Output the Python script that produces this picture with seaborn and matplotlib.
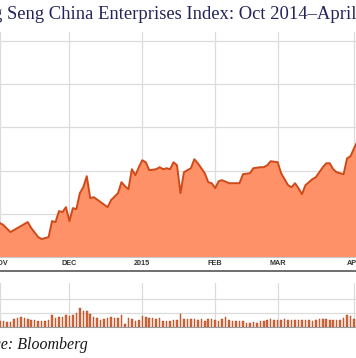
import pandas as pd
import matplotlib
matplotlib.use('Agg')
import matplotlib.pyplot as plt
import seaborn as sns

# Trading calendar (the chart's x axis runs over trading days)
holidays = ['2014-12-25', '2014-12-26', '2015-01-01', '2015-02-19', '2015-02-20']

# Index level
index_dates = [
    '2014-11-03', '2014-11-04', '2014-11-06', '2014-11-10', '2014-11-13', '2014-11-14',
    '2014-11-18', '2014-11-19', '2014-11-21', '2014-11-24', '2014-11-25', '2014-11-26',
    '2014-11-27', '2014-11-28', '2014-12-01', '2014-12-02', '2014-12-03', '2014-12-04',
    '2014-12-05', '2014-12-08', '2014-12-09', '2014-12-10', '2014-12-12', '2014-12-16',
    '2014-12-17', '2014-12-19', '2014-12-22', '2014-12-23', '2014-12-24', '2014-12-29',
    '2014-12-30', '2014-12-31', '2015-01-02', '2015-01-05', '2015-01-06', '2015-01-08',
    '2015-01-09', '2015-01-12', '2015-01-13', '2015-01-14', '2015-01-15', '2015-01-16',
    '2015-01-19', '2015-01-20', '2015-01-22', '2015-01-23', '2015-01-26', '2015-01-28',
    '2015-01-29', '2015-01-30', '2015-02-02', '2015-02-03', '2015-02-04', '2015-02-06',
    '2015-02-09', '2015-02-10', '2015-02-11', '2015-02-12', '2015-02-16', '2015-02-17',
    '2015-02-23', '2015-02-24', '2015-02-25', '2015-02-26', '2015-03-02', '2015-03-03',
    '2015-03-05', '2015-03-06', '2015-03-09', '2015-03-10', '2015-03-11', '2015-03-12',
    '2015-03-16', '2015-03-17', '2015-03-19', '2015-03-20', '2015-03-23', '2015-03-24',
    '2015-03-25', '2015-03-27', '2015-03-30', '2015-03-31', '2015-04-01', '2015-04-02',
]
index_values = [
    10785, 10739, 10578, 10670, 10809, 10670,
    10462, 10416, 10462, 10832, 10809, 11063,
    11040, 11155, 10832, 11132, 11109, 11478,
    11617, 11871, 11363, 11386, 11271, 11155,
    11317, 11478, 11733, 11640, 11571, 12033,
    11894, 12079, 12241, 12195, 12010, 12033,
    12079, 12033, 12056, 12033, 12195, 12125,
    11478, 11964, 12056, 12264, 12171, 11940,
    11733, 11709, 11594, 11756, 11779, 11709,
    11709, 11709, 11709, 11917, 11940, 12056,
    12079, 12079, 12125, 12218, 12195, 11940,
    11663, 11617, 11709, 11594, 11455, 11663,
    11802, 11848, 12079, 12171, 12171, 12033,
    11964, 11917, 12287, 12333, 12518, 12680,
]

# Daily turnover (billion shares), one per trading day
volume_nov = [0.41, 0.41, 0.36, 0.39, 0.57, 0.66, 0.68, 0.64, 0.54, 0.52,
              0.52, 0.46, 0.41, 0.46, 0.52, 0.84, 0.61, 0.69, 0.71, 0.84]
volume_dec = [0.81, 0.86, 1.00, 1.36, 1.12, 1.16, 0.93, 0.69, 0.64, 0.50,
              0.57, 0.64, 0.74, 0.64, 0.61, 0.86, 0.21, 0.64, 0.54, 0.41, 0.52]
volume_jan = [0.76, 0.74, 0.64, 0.64, 0.59, 0.64, 0.41, 0.45, 0.45, 0.50,
              0.52, 0.93, 0.59, 0.55, 0.57, 0.54, 0.52, 0.54, 0.45, 0.54, 0.54]
volume_feb = [0.50, 0.46, 0.57, 0.71, 0.52, 0.45, 0.43, 0.45, 0.41, 0.29,
              0.31, 0.34, 0.32, 0.41, 0.45, 0.50, 0.57, 0.50]
volume_mar = [0.50, 0.51, 0.55, 0.50, 0.49, 0.50, 0.50, 0.50, 0.52, 0.50,
              0.45, 0.49, 0.55, 0.57, 0.54, 0.50, 0.49, 0.49, 0.50, 0.61, 0.84, 0.82]
volume_apr = [0.57, 0.57]

tick_dates = ['2014-11-03', '2014-12-01', '2015-01-02', '2015-02-02', '2015-03-02', '2015-04-01']
tick_labels = ['NOV', 'DEC', '2015', 'FEB', 'MAR', 'APR']

title = 'Hang Seng China Enterprises Index: Oct 2014\u2013April 2015'
title_visible = 'Hang Seng China Enterprises Index: Oct 2014\u2013April'
source = 'Source: Bloomberg'

# Build frames, positioned by trading-day number
trade_days = pd.bdate_range('2014-11-03', '2015-04-02')
trade_days = trade_days[~trade_days.isin(pd.to_datetime(holidays))]
df = pd.DataFrame({'date': pd.to_datetime(index_dates), 'value': index_values})
df['pos'] = trade_days.get_indexer(df['date'])
vol = pd.DataFrame({'date': trade_days,
                    'volume': volume_nov + volume_dec + volume_jan + volume_feb + volume_mar + volume_apr})
vol['pos'] = range(len(vol))
tick_pos = trade_days.get_indexer(pd.to_datetime(tick_dates))

sns.set_theme(style='white')
plt.rcParams['font.family'] = ['Liberation Sans', 'DejaVu Sans']

W, H = 356, 358
fig = plt.figure(figsize=(W / 100, H / 100), dpi=100)
ax = fig.add_axes([0, 1 - 257 / H, 1, 225 / H])
axv = fig.add_axes([0, 1 - 327 / H, 1, 44 / H])

xmin, xmax = 3 / 3.5, 359 / 3.5
grid_kw = dict(color='#dcdcdc', lw=0.9)

# Price area
ax.fill_between(df['pos'], df['value'], 10000, color='#ff9168', lw=0, zorder=2)
sns.lineplot(data=df, x='pos', y='value', ax=ax, color='#cf4a18', lw=1.4, zorder=3)
ax.set_xlim(xmin, xmax)
ax.set_ylim(10000, 15210)
ax.set_yticks([11000, 12000, 13000, 14000, 15000])
ax.set_xticks(tick_pos)
ax.set_xticklabels(tick_labels)
ax.grid(True, **grid_kw)
ax.set_axisbelow(True)
ax.tick_params(axis='x', length=0, pad=2.2, labelsize=5.2, labelcolor='#333333')
ax.tick_params(axis='y', length=0, labelleft=False)
for lab in ax.get_xticklabels():
    lab.set_fontweight('bold')
for s in ['top', 'left', 'right']:
    ax.spines[s].set_visible(False)
ax.spines['bottom'].set_color('#c8c8c8')
ax.spines['bottom'].set_linewidth(0.8)
ax.set_xlabel('')
ax.set_ylabel('')
# dark rule under the month labels
ax.plot([0, 1], [-14 / 225, -14 / 225], transform=ax.transAxes, clip_on=False,
        color='#6e6e6e', lw=1.4)

# Volume bars
axv.bar(vol['pos'], vol['volume'], width=0.45, color='#d8683a', edgecolor='#a9481f',
        lw=0.3, zorder=2)
axv.set_xlim(xmin, xmax)
axv.set_ylim(0, 44 / 14)
axv.set_yticks([1, 2])
axv.set_xticks(tick_pos)
axv.grid(True, **grid_kw)
axv.set_axisbelow(True)
axv.tick_params(length=0, labelbottom=False, labelleft=False)
for s in ['top', 'left', 'right']:
    axv.spines[s].set_visible(False)
axv.spines['bottom'].set_color('#9a9a9a')
axv.spines['bottom'].set_linewidth(0.8)

# Title, cropped like the reference
title_kw = dict(family=['Liberation Serif', 'DejaVu Serif'], size=13.4, color='#24245c')
renderer = fig.canvas.get_renderer()
probe = fig.text(0, 0, title_visible, **title_kw)
w = probe.get_window_extent(renderer).width
probe.remove()
fig.text((W - w) / W, 1 - 19 / H, title, ha='left', va='baseline', **title_kw)

# Source line
fig.text(88 / W, 1 - 349 / H, source, ha='right', va='baseline',
         family=['Liberation Serif', 'DejaVu Serif'], style='italic', size=11.5, color='#1a1a1a')

fig.savefig('out.png', dpi=100)
